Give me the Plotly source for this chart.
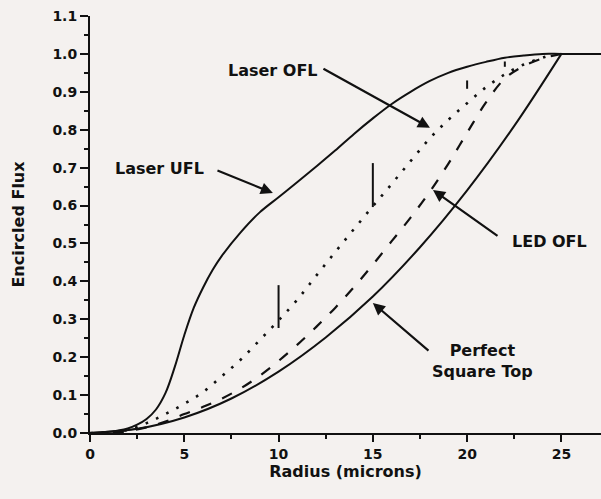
import plotly.graph_objects as go

# Encircled flux vs. radius for several launch conditions
radius = [0, 1, 2, 2.5, 3, 3.5, 4, 4.5, 5, 5.5, 6, 6.5, 7, 8, 9, 10, 11, 12, 13, 14,
          15, 16, 17, 18, 19, 20, 21, 22, 23, 24, 25, 27.1]
laser_ufl = [0, 0.003, 0.012, 0.022, 0.037, 0.062, 0.105, 0.175, 0.258, 0.33, 0.384,
             0.43, 0.468, 0.53, 0.582, 0.622, 0.662, 0.703, 0.745, 0.789, 0.83, 0.868,
             0.90, 0.928, 0.95, 0.966, 0.979, 0.99, 0.996, 1.0, 1.0, 1.0]

ofl_r = [0, 1, 2, 3, 4, 5, 6, 7, 8, 9, 10, 11, 12, 13, 14, 15, 16, 17, 18, 19, 20,
         21, 22, 23, 24, 24.6]
laser_ofl = [0, 0.002, 0.008, 0.026, 0.05, 0.077, 0.108, 0.15, 0.194, 0.245, 0.297,
             0.352, 0.415, 0.477, 0.538, 0.598, 0.657, 0.717, 0.776, 0.826, 0.87,
             0.912, 0.946, 0.972, 0.99, 1.0]

led_r = [0, 1, 2, 3, 4, 5, 6, 7, 8, 9, 10, 11, 12, 13, 14, 15, 16, 17, 18, 19, 20,
         21, 22, 23, 24, 25]
led_ofl = [0, 0.001, 0.005, 0.015, 0.03, 0.05, 0.069, 0.091, 0.118, 0.151, 0.19,
           0.233, 0.28, 0.33, 0.385, 0.444, 0.506, 0.568, 0.635, 0.71, 0.792,
           0.872, 0.935, 0.968, 0.988, 1.0]

square_r = [0, 2.5, 5, 7.5, 10, 12.5, 15, 17.5, 20, 22.5, 25]
square_top = [0, 0.011, 0.041, 0.091, 0.162, 0.252, 0.36, 0.49, 0.64, 0.81, 1.0]

# Measured spread on the Laser OFL trace
err_r = [10, 15, 20, 22]
err_lo = [0.277, 0.596, 0.908, 0.966]
err_hi = [0.39, 0.712, 0.93, 0.98]

x_ticks = [0, 5, 10, 15, 20, 25]
y_ticks = [0.0, 0.1, 0.2, 0.3, 0.4, 0.5, 0.6, 0.7, 0.8, 0.9, 1.0, 1.1]

FONT = "DejaVu Sans"
BG = "#f4f1ef"
INK = "#111111"
SMOOTH = 1.0

fig = go.Figure()
fig.add_trace(go.Scatter(x=radius, y=laser_ufl, mode="lines",
                         line=dict(color=INK, width=2, shape="spline", smoothing=SMOOTH)))
fig.add_trace(go.Scatter(x=ofl_r, y=laser_ofl, mode="lines",
                         line=dict(color=INK, width=2.6, dash="2.6px,8.8px",
                                   shape="spline", smoothing=SMOOTH)))
fig.add_trace(go.Scatter(x=led_r, y=led_ofl, mode="lines",
                         line=dict(color=INK, width=2.2, dash="11px,12px",
                                   shape="spline", smoothing=SMOOTH)))
fig.add_trace(go.Scatter(x=square_r, y=square_top, mode="lines",
                         line=dict(color=INK, width=2, shape="spline", smoothing=SMOOTH)))
fig.add_trace(go.Scatter(
    x=err_r, y=err_lo, mode="markers", marker=dict(size=1, opacity=0),
    error_y=dict(type="data", symmetric=False,
                 array=[h - l for h, l in zip(err_hi, err_lo)],
                 arrayminus=[0] * len(err_r), color=INK, thickness=2, width=0)))

label_font = dict(family=FONT, size=16, color=INK)
labels = [
    ("Laser UFL", 3.66, 0.699),
    ("Laser OFL", 9.70, 0.955),
    ("LED OFL", 24.39, 0.504),
    ("Perfect<br>Square Top", 20.84, 0.189),
]
for text, lx, ly in labels:
    bold = "<br>".join(f"<b>{part}</b>" for part in text.split("<br>"))
    fig.add_annotation(x=lx, y=ly, text=bold, showarrow=False, font=label_font,
                       xanchor="center", yanchor="middle")

# Pointer arrows: (head x, head y, tail x, tail y)
arrows = [
    (9.70, 0.633, 6.68, 0.694),
    (18.03, 0.805, 12.30, 0.963),
    (18.19, 0.641, 21.69, 0.517),
    (15.0, 0.343, 18.03, 0.214),
]
for hx, hy, tx, ty in arrows:
    fig.add_annotation(x=hx, y=hy, ax=tx, ay=ty, xref="x", yref="y",
                       axref="x", ayref="y", text="", showarrow=True,
                       arrowhead=2, arrowsize=1.1, arrowwidth=2.2, arrowcolor=INK)

fig.update_layout(
    width=601, height=499,
    margin=dict(l=90, r=0, t=16, b=66),
    paper_bgcolor=BG, plot_bgcolor=BG,
    showlegend=False,
    font=dict(family=FONT, color=INK),
)
fig.update_xaxes(
    range=[0, 27.1], tickvals=x_ticks, ticktext=[f"<b>{v}</b>" for v in x_ticks],
    showgrid=False, zeroline=False, showline=True, linecolor=INK, linewidth=2,
    ticks="outside", ticklen=7, tickwidth=2, tickcolor=INK,
    minor=dict(dtick=2.5, tick0=0, ticks="outside", ticklen=4, tickwidth=2,
               tickcolor=INK, showgrid=False),
    tickfont=dict(family=FONT, size=14, color=INK),
    title=dict(text="<b>Radius (microns)</b>", font=dict(family=FONT, size=16, color=INK),
               standoff=1),
)
fig.update_yaxes(
    range=[0, 1.1], tickvals=y_ticks, ticktext=[f"<b>{v:.1f}</b>" for v in y_ticks],
    showgrid=False, zeroline=False, showline=True, linecolor=INK, linewidth=2,
    ticks="outside", ticklen=8, tickwidth=2, tickcolor=INK,
    minor=dict(dtick=0.05, tick0=0, ticks="outside", ticklen=4, tickwidth=2,
               tickcolor=INK, showgrid=False),
    tickfont=dict(family=FONT, size=14, color=INK),
    title=dict(text="<b>Encircled Flux</b>", font=dict(family=FONT, size=16, color=INK),
               standoff=24),
)

fig.write_html("out.html")
